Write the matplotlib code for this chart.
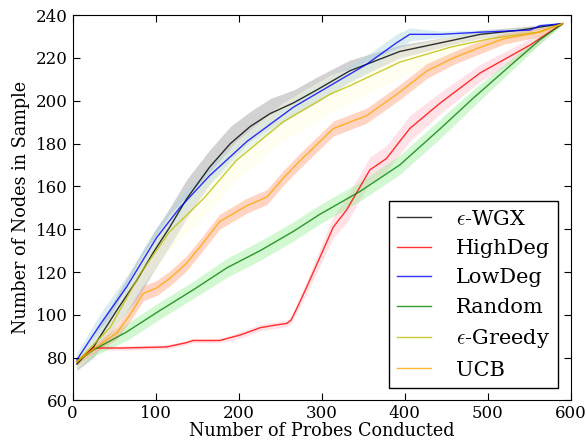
import matplotlib
matplotlib.use("Agg")
import matplotlib.pyplot as plt
import numpy as np

plt.rcParams['font.family'] = ['DejaVu Serif']
plt.rcParams['mathtext.fontset'] = 'cm'

# ---- data ----
wgx_x = [5, 25, 53, 77, 97, 117, 137, 165, 190, 214, 238, 266, 294, 334, 394, 455, 491, 540, 590]
wgx_y = [77, 85, 102, 116, 129, 141, 154, 169, 180, 188, 194, 199, 205, 214, 223, 228, 231, 233, 236]
wgx_e = [3, 5, 7, 9, 9, 9, 9, 8, 8, 7, 7, 6, 6, 5, 3, 2, 2, 1.5, 0.5]

high_x = [5, 25, 60, 113, 137, 145, 177, 202, 226, 241, 258, 263, 270, 282, 298, 314, 330, 342, 358, 378, 406, 443, 491, 551, 590]
high_y = [78, 84.5, 84.5, 85, 87, 88, 88, 90.6, 94, 95, 96, 97.5, 103, 113, 127, 141, 149, 157, 167.7, 173, 187, 199, 213, 226, 236]
high_e = [1.5, 1, 1, 1, 1, 1, 1, 1.5, 1.5, 1.5, 1.5, 1.5, 2, 3, 4, 5, 6, 6, 6, 6, 6, 5, 4, 3, 0.5]

low_x = [5, 34, 65, 101, 129, 165, 210, 266, 310, 354, 390, 406, 443, 491, 551, 563, 590]
low_y = [79, 96, 113, 136, 150, 165, 181, 197, 207, 217, 227, 231, 231, 232, 233, 235, 236]
low_e = [3, 5, 5, 5, 5, 4, 4, 4, 4, 4, 4, 3, 1.5, 1, 1, 1, 0.5]

rand_x = [5, 25, 65, 105, 145, 186, 226, 266, 298, 346, 394, 443, 482, 523, 563, 590]
rand_y = [78, 83.6, 92, 102, 111.6, 122, 130, 139, 147, 157.6, 170, 187, 201, 215, 228.5, 236]
rand_e = [2, 3, 4, 4, 4, 4.5, 4.5, 4.5, 4.5, 4.5, 4.5, 4.5, 4, 3, 2, 0.5]

greedy_x = [5, 45, 81, 117, 149, 157, 197, 253, 310, 334, 394, 455, 503, 560, 590]
greedy_y = [78, 94, 119, 139, 151, 154, 172, 190, 203, 207, 218, 225, 229, 232, 236]
greedy_e = [3, 5, 7, 8, 9, 9, 9, 9, 9, 8, 7, 5, 4, 2, 0.5]

ucb_x = [5, 25, 53, 69, 85, 101, 117, 137, 157, 177, 210, 234, 254, 274, 314, 354, 394, 427, 459, 491, 520, 563, 590]
ucb_y = [78, 84, 91.5, 100, 110, 112.5, 117, 124, 133.5, 143.5, 151, 155, 164, 172, 187, 193, 204, 214, 220, 225, 229, 232, 236]
ucb_e = [1.5, 2, 3, 3, 3.5, 3.5, 3.5, 3.5, 3.5, 3.5, 3.5, 3.5, 3.5, 3.5, 3.5, 3.5, 3.5, 3.5, 3, 3, 2.5, 2, 0.5]

series = [
    ("$\\epsilon$-WGX", wgx_x, wgx_y, wgx_e, "black", "gray", 0.35),
    ("HighDeg", high_x, high_y, high_e, "red", "pink", 0.45),
    ("LowDeg", low_x, low_y, low_e, "blue", "lightblue", 0.45),
    ("Random", rand_x, rand_y, rand_e, "green", "lightgreen", 0.4),
    ("$\\epsilon$-Greedy", greedy_x, greedy_y, greedy_e, "#bfbf00", "lightyellow", 0.45),
    ("UCB", ucb_x, ucb_y, ucb_e, "orange", "lightsalmon", 0.45),
]

fig = plt.figure(figsize=(5.86, 4.43), dpi=100)
ax = fig.add_axes([0.124, 0.096, 0.850, 0.870])

for label, xs, ys, es, lc, fc, fa in series:
    xs = np.array(xs, float)
    ys = np.array(ys, float)
    es = np.array(es, float)
    ax.fill_between(xs, ys - es, ys + es, color=fc, alpha=fa, linewidth=0)
for label, xs, ys, es, lc, fc, fa in series:
    ax.plot(xs, ys, color=lc, lw=1.0, alpha=0.8, label=label)

ax.set_xlim(0, 600)
ax.set_ylim(60, 240)
ax.set_xticks(range(0, 601, 100))
ax.set_yticks(range(60, 241, 20))
ax.tick_params(direction='in', top=True, right=True, labelsize=12, length=5)
ax.set_xlabel("Number of Probes Conducted", fontsize=12.7, labelpad=0)
ax.set_ylabel("Number of Nodes in Sample", fontsize=12.7, labelpad=4)

leg = ax.legend(loc='lower right', fontsize=15, fancybox=False, framealpha=1,
                edgecolor='black', handlelength=1.6, labelspacing=0.5,
                borderaxespad=0.6, handletextpad=1.2)
leg.get_frame().set_linewidth(1.0)

fig.savefig("out.png", dpi=100)
